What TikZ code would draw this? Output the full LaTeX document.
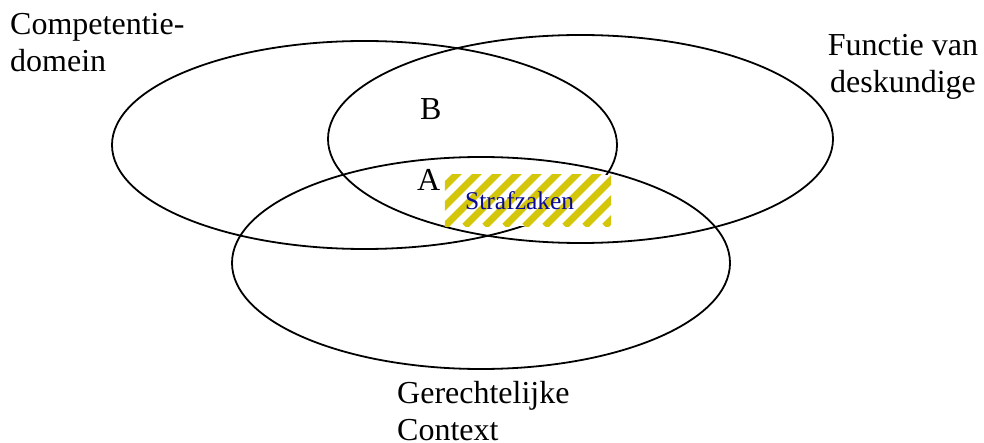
\documentclass[tikz,border=0pt]{standalone}
\usepackage{fontspec}
\setmainfont{Liberation Serif}
\usepackage{tikz}
\usetikzlibrary{positioning, shapes.geometric}
\definecolor{cStripe}{RGB}{212,198,10}
\definecolor{cNavy}{RGB}{10,10,150}
\tikzset{
  %% domain ellipses
  domainell/.style={ellipse, draw=black, line width=1.8pt, inner sep=0pt,
                    minimum width=505pt, minimum height=208pt},
  %% labels (base = baseline of the last line)
  lbl/.style={font=\fontsize{32}{37}\selectfont, inner sep=0pt},
  lblL/.style={lbl, align=left, anchor=base west},
  lblC/.style={lbl, align=center, anchor=base},
  %% striped box
  stripe/.style={draw=cStripe, line width=7pt},
  strafbox/.style={rectangle, fill=white, inner sep=0pt,
                   minimum width=166pt, minimum height=51pt},
  straftext/.style={font=\fontsize{25.5}{30}\selectfont, text=cNavy,
                    inner sep=0pt, anchor=base west},
}
\begin{document}
\begin{tikzpicture}[x=1pt, y=-1pt]

\useasboundingbox (0,0) rectangle (984,443);

%% ============================================================
%%  ELLIPSES
%% ============================================================
\node[domainell] (compEll) at (364.5,145) {};
\node[domainell] (functEll) at (580.5,139) {};
\node[domainell, minimum width=498pt, minimum height=212pt] (gerEll) at (481,263) {};

%% ----- striped overlap box -----
\node[strafbox] (straf) at (528,200.5) {};
\begin{scope}
  \clip (straf.south west) rectangle (straf.north east);
  \foreach \s in {-60,-40,...,180}
    \draw[stripe] ([xshift=\s pt]straf.south west) -- ++(70,-70);
\end{scope}
\node[straftext] (strafLbl) at (465,210) {Strafzaken};

%% ============================================================
%%  LABELS
%% ============================================================
\node[lblL] (compLbl) at (10,72) {Competentie-\\domein};
\node[lblC] (functLbl) at (903,93) {Functie van\\deskundige};
\node[lblL] (gerLbl) at (397,440) {Gerechtelijke\\Context};

\node[lblL] (lblB) at (420,120) {B};
\node[lblL] (lblA) at (417,191) {A};

\end{tikzpicture}
\end{document}
